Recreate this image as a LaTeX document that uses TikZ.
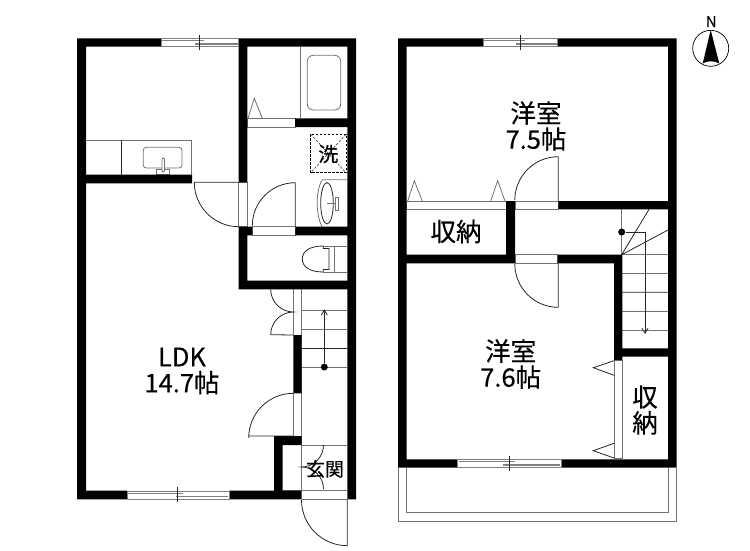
\documentclass[tikz,border=0pt]{standalone}
\usepackage{fontspec}
\setmainfont{Noto Sans CJK JP}[FakeBold=0.25]
\usetikzlibrary{arrows.meta}

\begin{document}
\begin{tikzpicture}[x=1pt, y=-1pt, line width=0.8pt, >={Straight Barb[length=5pt, width=6pt]}]
	\tikzstyle{wall}=[fill=black]
	\tikzstyle{fixture}=[draw=black!55]
	\tikzstyle{door}=[draw=black!85]
	\tikzstyle{windowframe}=[draw=black!50, fill=white]
	\tikzstyle{rail}=[draw=black!50, line width=1.4pt]
	\tikzstyle{roomlabel}=[align=center, inner sep=0pt, font=\fontsize{25.5}{26}\selectfont]
	\tikzstyle{smalllabel}=[inner sep=0pt, font=\fontsize{19}{20}\selectfont]
	\useasboundingbox (0,0) rectangle (750,550);

	% thin lines left
	\draw[fixture]
	(86,140) -- (191,140) -- (191,175)
	(238.7,182.3) rectangle (247.3,226.5)
	(300,46.7) -- (300,118.3)
	(247.3,118.3) rectangle (295,127)
	(252.3,226.7) rectangle (295.3,235.3)
	(293.3,289) -- (293.3,335) (301.5,289) -- (301.5,491)
	(293.3,393.3) -- (293.3,436)
	(301.5,445) -- (347.3,445)
	(282.7,490.7) -- (347.3,490.7)
	(301.5,499.3) -- (347.3,499.3);
	\draw[door] (121.3,140) -- (121.3,175);
	\draw[fixture, rounded corners=3pt] (143.3,147.3) rectangle (182,168);
	\draw[fixture, rounded corners=6pt] (307.3,55.3) rectangle (340.7,110);
	\draw[fixture, fill=white] (156.7,169.3) rectangle (169.3,174.5);
	\draw[fixture, fill=white, rounded corners=1pt] (162,158) rectangle (164.5,172);
	\draw[fixture] (248,118.3) -- (254.3,98.3) -- (262.3,118.3);
	% washing place
	\draw[black, line width=0.7pt, dash pattern=on 2.5pt off 1.5pt] (310.7,134.3) rectangle (346,172.7);
	\draw[black!70, line width=0.7pt, dash pattern=on 2.5pt off 1.5pt] (310.7,134.3) -- (346,172.7) (346,134.3) -- (310.7,172.7);
	% basin
	\draw[fixture] (347.3,179.7) -- (322.3,179.7) .. controls (315.5,190) and (315.5,216) .. (322.3,226.7);
	\draw[door] (327,203.3) ellipse [x radius=6.3, y radius=20.7];
	\draw[fixture] (327,203) -- (337,203);
	\draw[fixture, fill=white] (335,197.5) rectangle (338.5,210);
	% toilet
	\draw[fixture] (323.3,246) -- (347.3,246) (334.3,246) -- (334.3,272) (323.3,272) -- (347.3,272);
	\draw[door, fill=white] (323.3,246) .. controls (310,246) and (302.3,251) .. (302.3,259)
	.. controls (302.3,267) and (310,272) .. (323.3,272)
	-- (323.3,269.5) -- (329,269.5) -- (329,248.5) -- (323.3,248.5) -- cycle;
	% stairs left
	\draw[fixture] (301.5,310.7) -- (347.3,310.7) (301.5,329.3) -- (347.3,329.3) (301.5,367) -- (347.3,367);
	\draw[door] (301.5,348.3) -- (347.3,348.3);

	% thin lines right
	\draw[fixture]
	(406.7,201) rectangle (506,209.3)
	(515,201) rectangle (558.3,209.3)
	(515,254.7) rectangle (557.7,263.3)
	(621.7,209.3) -- (621.7,254.7)
	(622,254.7) -- (668,254.7) (622,273.7) -- (668,273.7) (622,311) -- (668,311) (622,330) -- (668,330)
	(614.5,360) rectangle (622,458.3)
	(398.3,467.7) -- (398.3,521) -- (676,521) -- (676,467.7)
	(406,467.7) -- (406,512.7) -- (668.3,512.7) -- (668.3,467.7);
	\draw[door] (622,292.3) -- (668,292.3)
	(621.7,254.7) -- (649,209.3)
	(621.7,254.7) -- (668,230);
	\draw[fixture] (407.7,201) -- (414.3,180.7) -- (422.3,201);
	\draw[fixture] (490.7,201) -- (497.7,180.7) -- (505,201);
	\draw[door] (614,360.7) -- (593.3,367.7) -- (614,375.3);
	\draw[door] (614,443.3) -- (593.3,450.7) -- (614,458);

	% walls
	\fill[wall]
	(77,38.3) rectangle (161,46.7)
	(238.7,38.3) rectangle (356,46.7)
	(77,38.3) rectangle (86,499.3)
	(347.3,38.3) rectangle (356,499.3)
	(77,490.7) rectangle (127,499.3)
	(229,490.7) rectangle (301.7,499.3)
	(86,174.7) rectangle (192,183.3)
	(238.7,38.3) rectangle (247.3,182.3)
	(238.7,226.5) rectangle (247.3,289.3)
	(295,118.3) rectangle (347.3,127)
	(238.7,226.7) rectangle (252.3,235.3)
	(295.3,226.7) rectangle (347.3,235.3)
	(238.7,280.5) rectangle (356,289.3)
	(293.3,335) rectangle (301.5,393.3)
	(274,436) rectangle (301.5,445)
	(274,436) rectangle (282.7,491)
	(398,38.3) rectangle (483,46.7)
	(557.7,38.3) rectangle (676.7,46.7)
	(398,38.3) rectangle (406.7,467.7)
	(668,38.3) rectangle (676.7,467.7)
	(398,459.3) rectangle (457.7,467.7)
	(561,459.3) rectangle (676.7,467.7)
	(506,201) rectangle (515,263.3)
	(558.3,201) rectangle (668,209.3)
	(406.7,254.7) rectangle (515,263.3)
	(557.7,254.7) rectangle (622.3,263.3)
	(614,254.7) rectangle (622.3,360)
	(614,348.3) rectangle (668,356.7);

	% windows
	\draw[windowframe] (161,38.8) rectangle (238.7,46.4);
	\draw[rail] (162,40.7) -- (204,40.7) (195,44) -- (238,44);
	\draw[door] (199.3,35) -- (199.3,50);
	\draw[windowframe] (127,491) rectangle (229,499);
	\draw[rail] (128,493.3) -- (183,493.3) (176,496.7) -- (228,496.7);
	\draw[door] (177.7,487) -- (177.7,502);
	\draw[windowframe] (483,38.8) rectangle (557.7,46.4);
	\draw[rail] (484,40.7) -- (525,40.7) (516,44) -- (557,44);
	\draw[door] (520.3,35) -- (520.3,50);
	\draw[windowframe] (457.7,459.7) rectangle (561,467.3);
	\draw[rail] (458.5,461.7) -- (515,461.7) (503,465) -- (560,465);
	\draw[door] (509,456) -- (509,471);

	% doors
	\draw[door] (194.3,182.3) -- (238.7,182.3) (194.3,182.3) arc[start angle=180, end angle=90, radius=44.4];
	\draw[door] (295.3,226.7) -- (295.3,182.7) arc[start angle=-90, end angle=-180, radius=43];
	\draw[door] (270.7,289.3) arc[start angle=180, end angle=90, radius=22.7] arc[start angle=-90, end angle=-180, radius=22.7] -- (293.3,335);
	\draw[door] (248.7,436) -- (293.3,436) (293.3,393.3) arc[start angle=-90, end angle=-180, radius=44.6];
	\draw[door] (323.5,445) arc[start angle=0, end angle=90, radius=22] arc[start angle=-90, end angle=0, radius=22];
	\draw[door] (347.3,499.3) -- (347.3,545.7) arc[start angle=90, end angle=180, radius=45.8];
	\draw[door] (558.3,201) -- (558.3,156.7) arc[start angle=-90, end angle=-180, radius=43.5];
	\draw[door] (558.3,263.3) -- (558.3,307.3) arc[start angle=90, end angle=180, radius=43.5];

	% stair arrows
	\node[fill=black, circle, inner sep=0pt, minimum size=7pt] (dotLeft) at (324.3,367) {};
	\coordinate (arrowLeft) at (324.3,309.3);
	\draw[door, ->] (dotLeft) -- (arrowLeft);
	\node[fill=black, circle, inner sep=0pt, minimum size=7pt] (dotRight) at (621.7,232) {};
	\coordinate (arrowRight) at (645,334);
	\draw[door, ->] (dotRight) -| (arrowRight);

	% north mark
	\draw[black, line width=0.7pt] (710.7,48.3) circle (18);
	\fill[black] (710.7,30) -- (702.7,63.5) .. controls (707,60.5) and (714.5,60.5) .. (719.3,63.5) -- cycle;

	% labels
	\node[roomlabel] (ldk) at (182,371) {LDK\\14.7帖};
	\node[roomlabel] (roomNorth) at (536,126) {洋室\\7.5帖};
	\node[roomlabel] (roomSouth) at (510.7,364) {洋室\\7.6帖};
	\node[roomlabel] (closetNorth) at (456,231.5) {収納};
	\node[roomlabel] (closetEast) at (645,410) {収\\納};
	\node[smalllabel] (entrance) at (325,469) {玄関};
	\node[inner sep=0pt, font=\fontsize{20}{20}\selectfont] (wash) at (328.3,154) {洗};
	\node[inner sep=0pt, font=\fontsize{15}{15}\selectfont] (north) at (711.3,21.7) {N};
\end{tikzpicture}
\end{document}
